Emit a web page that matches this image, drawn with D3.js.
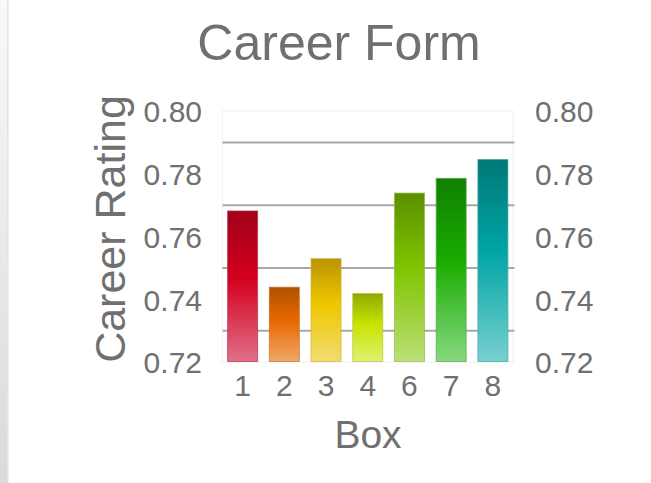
<!DOCTYPE html>
<html>
<head>
<meta charset="utf-8">
<script src="https://cdn.jsdelivr.net/npm/d3@7"></script>
<style>
  html, body { margin: 0; padding: 0; background: #fff; }
  svg { display: block; font-family: "Liberation Sans", Arial, sans-serif; }
</style>
</head>
<body>
<svg id="chart" width="651" height="483"></svg>
<script>
const categories = ["1", "2", "3", "4", "6", "7", "8"];
const values = [0.7683, 0.7440, 0.7531, 0.7420, 0.7740, 0.7787, 0.7847];
const yTickLabels = [0.72, 0.74, 0.76, 0.78, 0.80];
const gridValues = [0.73, 0.75, 0.77, 0.79];
const barTop = ["#a00018", "#b05000", "#b89400", "#90a800", "#5c9000", "#108000", "#007878"];
const barMid = ["#d4001e", "#e86800", "#f0c800", "#c8e400", "#80c400", "#18ac00", "#00a4a4"];
const barBottom = ["#e07088", "#f0a868", "#f2dc70", "#e0f070", "#bce078", "#88d880", "#78d0d0"];
const barStroke = ["#b83050", "#c87030", "#d0b040", "#b0c840", "#90b848", "#58a850", "#48a0a0"];

const svg = d3.select("#chart");
const plot = { left: 222.5, right: 513, top: 111, bottom: 362 };

// left gray strip
const defs = svg.append("defs");
const sg = defs.append("linearGradient").attr("id", "strip").attr("x1", 0).attr("y1", 0).attr("x2", 0).attr("y2", 1);
sg.append("stop").attr("offset", "0%").attr("stop-color", "#f9f9f9");
sg.append("stop").attr("offset", "100%").attr("stop-color", "#dadada");
svg.append("rect").attr("x", 0).attr("y", 0).attr("width", 7).attr("height", 483).attr("fill", "url(#strip)");
svg.append("rect").attr("x", 7).attr("y", 0).attr("width", 1.5).attr("height", 483).attr("fill", "#e4e4e4");

const x = d3.scaleBand().domain(categories).range([plot.left, plot.right]).paddingInner(0.256).paddingOuter(0.11);
const y = d3.scaleLinear().domain([0.72, 0.80]).range([plot.bottom, plot.top]);

// plot background
svg.append("rect").attr("x", plot.left).attr("y", plot.top)
  .attr("width", plot.right - plot.left).attr("height", plot.bottom - plot.top)
  .attr("fill", "#fff").attr("stroke", "#f0f0f0").attr("stroke-width", 1);

// gridlines
svg.append("g").selectAll("line").data(gridValues).join("line")
  .attr("x1", plot.left).attr("x2", plot.right + 1.5)
  .attr("y1", d => y(d)).attr("y2", d => y(d))
  .attr("stroke", "#a8a8a8").attr("stroke-width", 2);

// gradients per bar
categories.forEach((c, i) => {
  const g = defs.append("linearGradient").attr("id", "bar" + i).attr("x1", 0).attr("y1", 0).attr("x2", 0).attr("y2", 1);
  g.append("stop").attr("offset", "0%").attr("stop-color", barTop[i]);
  g.append("stop").attr("offset", "45%").attr("stop-color", barMid[i]);
  g.append("stop").attr("offset", "100%").attr("stop-color", barBottom[i]);
});

svg.append("g").selectAll("rect").data(values).join("rect")
  .attr("x", (d, i) => x(categories[i]) + 0.5)
  .attr("y", d => y(d) + 0.5)
  .attr("width", x.bandwidth() - 1)
  .attr("height", d => y(0.72) - y(d) - 1)
  .attr("fill", (d, i) => `url(#bar${i})`)
  .attr("stroke", (d, i) => barStroke[i])
  .attr("stroke-opacity", 0.7)
  .attr("stroke-width", 1);

const textColor = "#707070";

// y axes (left & right)
const yLeft = d3.axisLeft(y).tickValues(yTickLabels).tickFormat(d3.format(".2f")).tickSize(0).tickPadding(0);
const gL = svg.append("g").attr("transform", "translate(202,0)").call(yLeft);
const yRight = d3.axisRight(y).tickValues(yTickLabels).tickFormat(d3.format(".2f")).tickSize(0).tickPadding(0);
const gR = svg.append("g").attr("transform", "translate(535,0)").call(yRight);
[gL, gR].forEach(g => {
  g.select(".domain").remove();
  g.selectAll("text").attr("fill", textColor).attr("font-size", 30)
    .attr("font-family", "Liberation Sans, Arial, sans-serif").attr("dy", "0.36em");
});

// x axis
const xAxis = d3.axisBottom(x).tickSize(0).tickPadding(0);
const gX = svg.append("g").attr("transform", "translate(0,375)").call(xAxis);
gX.select(".domain").remove();
gX.selectAll("text").attr("fill", textColor).attr("font-size", 30)
  .attr("font-family", "Liberation Sans, Arial, sans-serif").attr("dy", "0.71em");

// titles
svg.append("text").attr("x", 339).attr("y", 60).attr("text-anchor", "middle")
  .attr("font-size", 50).attr("fill", textColor).text("Career Form");
svg.append("text").attr("x", 368).attr("y", 448).attr("text-anchor", "middle")
  .attr("font-size", 39).attr("fill", textColor).text("Box");
svg.append("text").attr("transform", "translate(125,229) rotate(-90)").attr("text-anchor", "middle")
  .attr("font-size", 43).attr("fill", textColor).text("Career Rating");
</script>
</body>
</html>
